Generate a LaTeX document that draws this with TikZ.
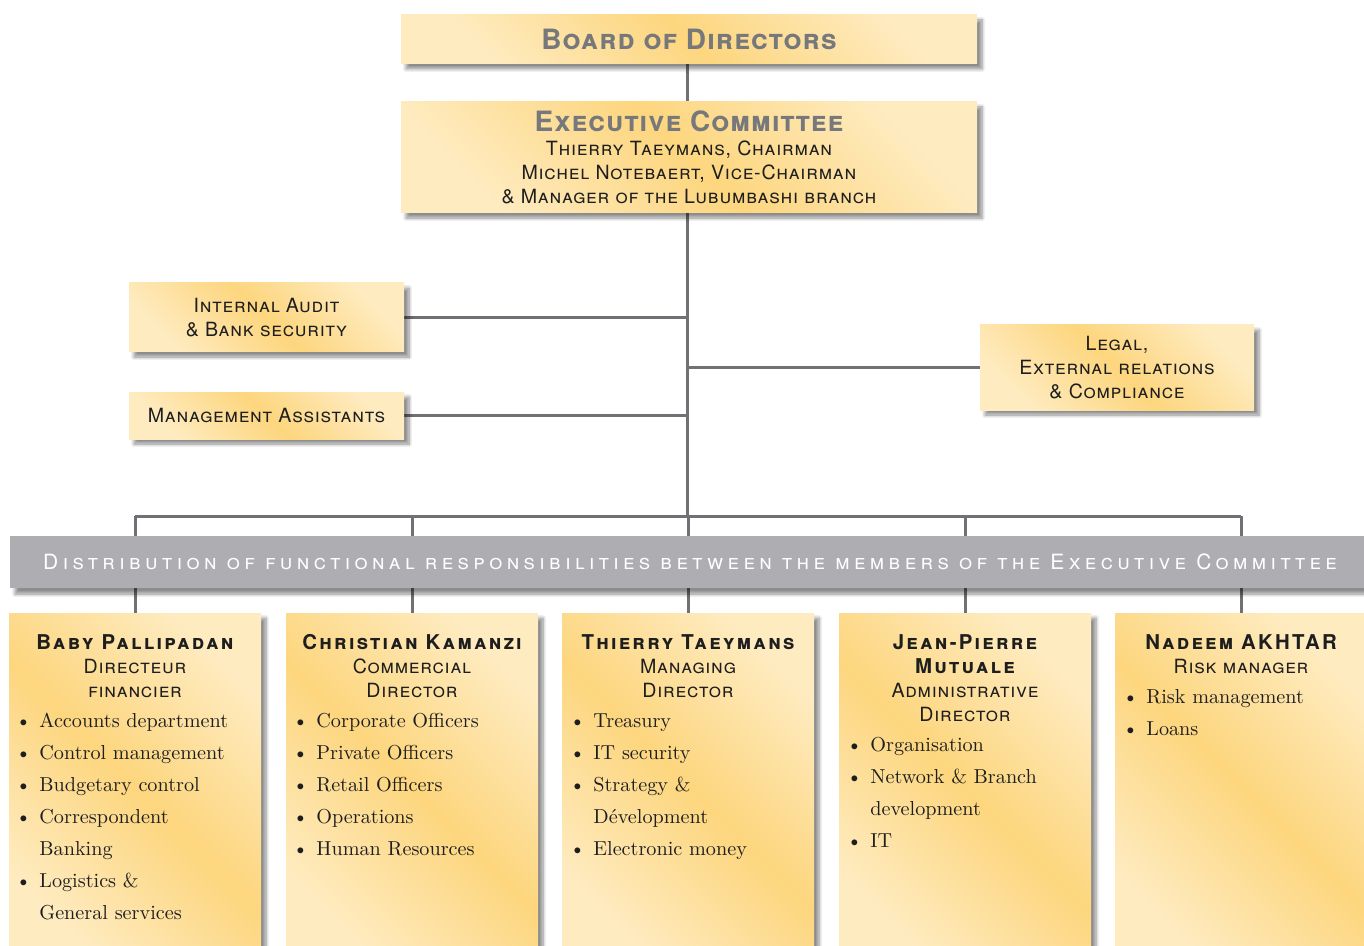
\documentclass[tikz,border=0pt]{standalone}
\usepackage{fontspec}
\setsansfont{TeX Gyre Heros}
\newfontfamily\headfont[LetterSpace=4]{TeX Gyre Heros}
\newfontfamily\namefont[LetterSpace=11]{TeX Gyre Heros}
\newfontfamily\bandfont[LetterSpace=21]{TeX Gyre Heros}
\usetikzlibrary{shadows.blur,backgrounds}
\definecolor{goldLight}{HTML}{FEEBC0}
\definecolor{goldDark}{HTML}{FDD67E}
\definecolor{lineGrey}{HTML}{717175}
\definecolor{bandGrey}{HTML}{AEADB1}
\definecolor{titleGrey}{HTML}{77787C}
\definecolor{inkBlack}{HTML}{1E1E1E}
\pgfdeclarehorizontalshading{goldShade}{100bp}{color(0bp)=(goldLight); color(25bp)=(goldLight); color(50bp)=(goldDark); color(75bp)=(goldLight); color(100bp)=(goldLight)}
\newcommand\bul{\llap{\textbullet\hspace{4pt}}}
\tikzset{
  goldbox/.style={rectangle, inner sep=0pt, shading=goldShade, shading angle=45,
    blur shadow={shadow xshift=2.5pt, shadow yshift=-2.5pt, shadow blur steps=8, shadow opacity=45},
    align=center, text=inkBlack, font=\headfont\fontsize{9.8}{12}\selectfont\scshape},
  bandbox/.style={rectangle, inner sep=0pt, fill=bandGrey,
    blur shadow={shadow xshift=2.5pt, shadow yshift=-3pt, shadow blur steps=8, shadow opacity=45},
    text=white, font=\bandfont\fontsize{10.5}{12}\selectfont\scshape},
  dirbox/.style={goldbox, minimum width=126pt, minimum height=173.5pt},
  dirhead/.style={anchor=north, align=center, inner sep=0pt, text=inkBlack,
    font=\headfont\fontsize{9.8}{12}\selectfont\scshape},
  items/.style={anchor=north west, align=left, inner sep=0pt, text=inkBlack,
    font=\fontsize{10.1}{16}\selectfont},
  link/.style={draw=lineGrey, line width=1.5pt}
}
\newcommand\titletext[1]{{\headfont\bfseries\fontsize{14}{15}\selectfont\scshape\color{titleGrey}#1}}
\newcommand\nametext[1]{{\namefont\bfseries\fontsize{10.2}{12}\selectfont\scshape #1}}

\begin{document}
\begin{tikzpicture}[x=0.5pt, y=-0.5pt]
  \useasboundingbox (0,0) rectangle (1364,946);

  % top of the chart
  \node[goldbox, minimum width=288pt, minimum height=24.5pt] (board) at (689,39.5) {\titletext{Board of Directors}};
  \node[goldbox, minimum width=288pt, minimum height=55.5pt] (exco) at (689,157.5)
    {\titletext{Executive Committee}\\ Thierry Taeymans, Chairman\\ Michel Notebaert, Vice-Chairman\\ \& Manager of the Lubumbashi branch};

  % staff functions
  \node[goldbox, minimum width=137.5pt, minimum height=34.5pt] (audit) at (266.5,317.5) {Internal Audit\\ \& Bank security};
  \node[goldbox, minimum width=137.5pt, minimum height=23.5pt] (assist) at (266.5,415.5) {Management Assistants};
  \node[goldbox, minimum width=137pt, minimum height=42.5pt] (legal) at (1117,367.5) {Legal,\\ External relations\\ \& Compliance};

  % grey band
  \node[bandbox, minimum width=680pt, minimum height=26pt] (band) at (690,562)
    {\raisebox{-2pt}{Distribution of functional responsibilities between the members of the Executive Committee}};

  % members
  \node[dirbox] (dir1) at (135,786.5) {};
  \node[dirbox] (dir2) at (412,786.5) {};
  \node[dirbox] (dir3) at (688,786.5) {};
  \node[dirbox] (dir4) at (965,786.5) {};
  \node[dirbox] (dir5) at (1241,786.5) {};

  \node[dirhead] (head1) at (135,634) {\nametext{Baby Pallipadan}\\ Directeur\\ financier};
  \node[dirhead] (head2) at (412,634) {\nametext{Christian Kamanzi}\\ Commercial\\ Director};
  \node[dirhead] (head3) at (688,634) {\nametext{Thierry Taeymans}\\ Managing\\ Director};
  \node[dirhead] (head4) at (965,634) {\nametext{Jean-Pierre}\\ \nametext{Mutuale}\\ Administrative\\ Director};
  \node[dirhead] (head5) at (1241,634) {\nametext{Nadeem AKHTAR}\\ Risk manager};

  \node[items] (list1) at (39,713) {\bul Accounts department\\ \bul Control management\\ \bul Budgetary control\\
    \bul Correspondent\\ Banking\\ \bul Logistics \&\\ General services};
  \node[items] (list2) at (316,713) {\bul Corporate Officers\\ \bul Private Officers\\ \bul Retail Officers\\
    \bul Operations\\ \bul Human Resources};
  \node[items] (list3) at (593,713) {\bul Treasury\\ \bul IT security\\ \bul Strategy \&\\ Dévelopment\\ \bul Electronic money};
  \node[items] (list4) at (870,737) {\bul Organisation\\ \bul Network \& Branch\\ development\\ \bul IT};
  \node[items] (list5) at (1146,689) {\bul Risk management\\ \bul Loans};

  % connectors
  \begin{scope}[on background layer]
    \coordinate (bus) at (687,516);
    \draw[link] (board.south -| bus) -- (exco.north -| bus);
    \draw[link] (exco.south -| bus) -- (bus);
    \draw[link] (audit.east) -- (audit.east -| bus);
    \draw[link] (assist.east) -- (assist.east -| bus);
    \draw[link] (legal.west) -- (legal.west -| bus);
    \draw[link] (dir1.north |- bus) -- (dir5.north |- bus);
    \foreach \d in {dir1,dir2,dir3,dir4,dir5}
      \draw[link] (\d.north) -- (\d.north |- bus);
  \end{scope}
\end{tikzpicture}
\end{document}
